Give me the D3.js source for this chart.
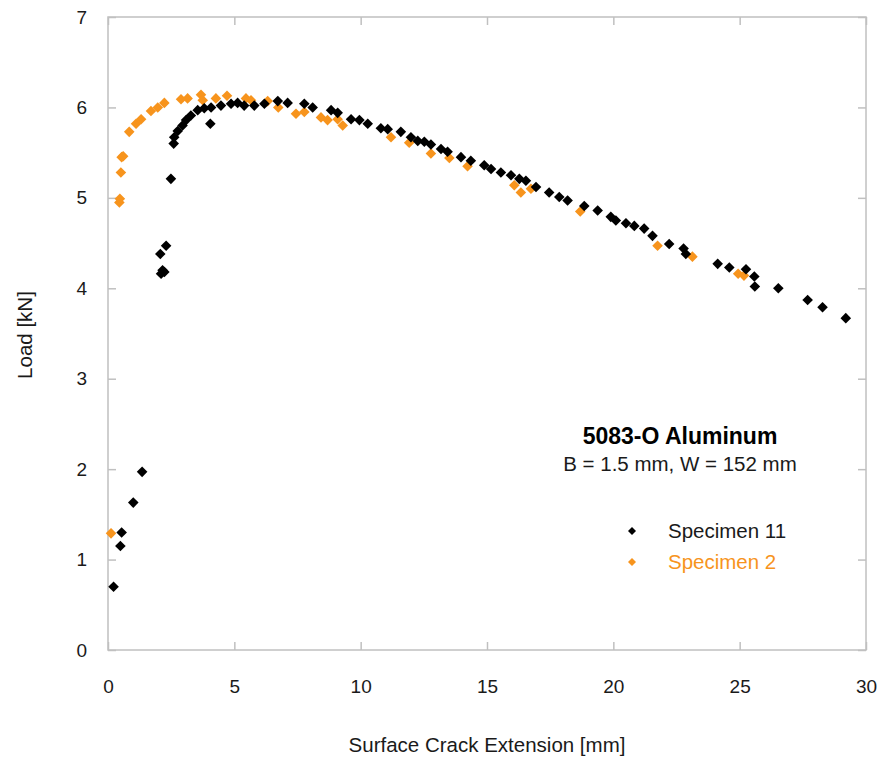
<!DOCTYPE html>
<meta charset="utf-8">
<style>
body { margin: 0; background: #fff; }
text { font-family: "Liberation Sans", Arial, sans-serif; fill: #1a1a1a; }
</style>
<body>
<div class="chart"></div>
<script src="https://cdn.jsdelivr.net/npm/d3@7"></script>
<script>

// Specimen 11 (black)
var s11x = [0.22, 0.49, 0.54, 1.00, 1.35, 2.10, 2.23, 2.07, 2.30, 2.16, 2.49, 2.60, 2.62, 2.76, 2.95, 3.09, 3.28, 3.55, 3.81, 4.08, 4.05,
            4.47, 4.87, 5.13, 5.39, 5.79, 6.19, 6.72, 7.11, 7.77, 8.10, 8.83, 9.09, 9.62, 9.95, 10.28, 10.80, 11.07, 11.59,
            11.99, 12.26, 12.52, 12.78, 13.18, 13.44, 13.97, 14.36, 14.89, 15.16, 15.55, 15.95, 16.28, 16.54, 16.94, 17.46,
            17.86, 18.19, 18.85, 19.38, 19.90, 20.10, 20.50, 20.83, 21.22, 21.55, 22.21, 22.78, 22.87, 24.13, 24.59, 25.25,
            25.58, 25.60, 26.53, 27.69, 28.28, 29.20];
var s11y = [0.70, 1.15, 1.30, 1.63, 1.97, 4.16, 4.18, 4.38, 4.47, 4.20, 5.21, 5.60, 5.67, 5.74, 5.80, 5.86, 5.91, 5.97, 5.99, 6.00, 5.82,
            6.02, 6.04, 6.05, 6.02, 6.02, 6.04, 6.07, 6.05, 6.04, 6.00, 5.97, 5.94, 5.87, 5.86, 5.82, 5.77, 5.76, 5.73,
            5.67, 5.63, 5.62, 5.59, 5.54, 5.51, 5.45, 5.41, 5.36, 5.32, 5.28, 5.25, 5.21, 5.19, 5.12, 5.06,
            5.01, 4.97, 4.91, 4.86, 4.79, 4.75, 4.72, 4.69, 4.66, 4.58, 4.49, 4.44, 4.38, 4.27, 4.23, 4.21,
            4.13, 4.02, 4.00, 3.87, 3.79, 3.67];

// Specimen 2 (orange)
var s2x = [0.12, 0.45, 0.47, 0.51, 0.54, 0.60, 0.84, 1.11, 1.31, 1.70, 1.97, 2.23, 2.89, 3.15, 3.68, 3.75, 4.27, 4.71, 5.46, 5.66,
           6.32, 6.74, 7.44, 7.77, 8.43, 8.69, 9.09, 9.29, 11.20, 11.92, 12.78, 13.51, 14.23, 16.08, 16.34, 16.74, 18.69,
           21.75, 23.13, 24.94, 25.17];
var s2y = [1.29, 4.95, 4.99, 5.28, 5.45, 5.46, 5.73, 5.82, 5.87, 5.96, 6.00, 6.05, 6.09, 6.10, 6.14, 6.08, 6.10, 6.13, 6.10, 6.08,
           6.07, 6.00, 5.93, 5.95, 5.89, 5.86, 5.87, 5.80, 5.67, 5.61, 5.49, 5.44, 5.35, 5.14, 5.06, 5.10, 4.85,
           4.47, 4.35, 4.16, 4.14];

var xTicks = [0, 5, 10, 15, 20, 25, 30];
var yTicks = [0, 1, 2, 3, 4, 5, 6, 7];

var seriesNames = ["Specimen 11", "Specimen 2"];
var seriesColors = ["#000000", "#f7941d"];

var width = 880, height = 759;
var plotL = 108, plotR = 866, plotT = 17, plotB = 650;

var svg = d3.select(".chart").append("svg")
    .attr("width", width)
    .attr("height", height);

var x = d3.scaleLinear().domain([0, 30]).range([plotL, plotR]);
var y = d3.scaleLinear().domain([0, 7]).range([plotB, plotT]);

var frame = "#c0c0c0";

// frame with inward ticks on all four sides
svg.append("rect")
    .attr("x", plotL).attr("y", plotT)
    .attr("width", plotR - plotL).attr("height", plotB - plotT)
    .attr("fill", "none").attr("stroke", frame).attr("stroke-width", 1.5);

function styleAxis(g) {
  g.select(".domain").remove();
  g.selectAll(".tick line").attr("stroke", frame).attr("stroke-width", 1.5);
  g.selectAll(".tick text")
    .style("font-size", "19px")
    .style("font-family", '"Liberation Sans", Arial, sans-serif')
    .attr("fill", "#1a1a1a");
}

svg.append("g")
    .attr("transform", "translate(0," + plotB + ")")
    .call(d3.axisBottom(x).tickValues(xTicks).tickFormat(d3.format("d")).tickSizeInner(-8).tickPadding(30))
    .call(styleAxis);

svg.append("g")
    .attr("transform", "translate(0," + plotT + ")")
    .call(d3.axisTop(x).tickValues(xTicks).tickSizeInner(-8).tickFormat(""))
    .call(styleAxis);

svg.append("g")
    .attr("transform", "translate(" + plotL + ",0)")
    .call(d3.axisLeft(y).tickValues(yTicks).tickFormat(d3.format("d")).tickSizeInner(-8).tickPadding(21))
    .call(styleAxis);

svg.append("g")
    .attr("transform", "translate(" + plotR + ",0)")
    .call(d3.axisRight(y).tickValues(yTicks).tickSizeInner(-8).tickFormat(""))
    .call(styleAxis);

// axis titles
svg.append("text")
    .attr("x", 487)
    .attr("y", 752)
    .attr("text-anchor", "middle")
    .style("font-size", "20.5px")
    .text("Surface Crack Extension [mm]");

svg.append("text")
    .attr("transform", "translate(32,335) rotate(-90)")
    .attr("text-anchor", "middle")
    .style("font-size", "20.5px")
    .text("Load [kN]");

// markers
var marker = d3.symbol().type(d3.symbolSquare).size(56);

var series = [
  { name: seriesNames[1], color: seriesColors[1], xs: s2x, ys: s2y },
  { name: seriesNames[0], color: seriesColors[0], xs: s11x, ys: s11y }
];

series.forEach(function(s) {
  svg.append("g").selectAll("path")
    .data(d3.range(s.xs.length))
    .enter().append("path")
    .attr("d", marker)
    .attr("fill", s.color)
    .attr("transform", function(i) {
      return "translate(" + x(s.xs[i]) + "," + y(s.ys[i]) + ") rotate(45)";
    });
});

// annotation
svg.append("text")
    .attr("x", 680).attr("y", 444)
    .attr("text-anchor", "middle")
    .style("font-size", "23px").style("font-weight", "bold")
    .style("fill", "#000")
    .text("5083-O Aluminum");

svg.append("text")
    .attr("x", 680).attr("y", 471)
    .attr("text-anchor", "middle")
    .style("font-size", "20.5px")
    .text("B = 1.5 mm, W = 152 mm");

// legend
var legend = svg.append("g");
seriesNames.forEach(function(name, i) {
  var ly = 531 + i * 31;
  legend.append("path")
      .attr("d", d3.symbol().type(d3.symbolSquare).size(32))
      .attr("fill", seriesColors[i])
      .attr("transform", "translate(632," + ly + ") rotate(45)");
  legend.append("text")
      .attr("x", 668).attr("y", ly + 7)
      .style("font-size", "20.5px")
      .style("fill", i === 0 ? "#1a1a1a" : seriesColors[i])
      .text(name);
});

</script>
</body>
